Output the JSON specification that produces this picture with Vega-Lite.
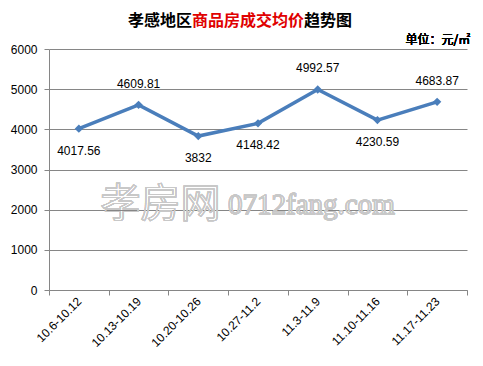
{
  "$schema": "https://vega.github.io/schema/vega-lite/v6.json",
  "width": 418,
  "height": 241,
  "autosize": {"type": "none"},
  "padding": {"left": 49, "top": 49, "right": 16, "bottom": 76},
  "background": "white",
  "config": {
    "view": {"stroke": null},
    "font": "Liberation Sans"
  },
  "title": {
    "text": "孝感地区　　　　　　　趋势图",
    "subtitle": "\u200b　商品房成交均价",
    "font": "Noto Sans CJK SC",
    "subtitleFont": "Noto Sans CJK SC",
    "fontSize": 16,
    "subtitleFontSize": 16,
    "fontWeight": "bold",
    "subtitleFontWeight": "bold",
    "color": "#000000",
    "subtitleColor": "#e00000",
    "subtitlePadding": -16,
    "anchor": "middle",
    "dx": -18,
    "offset": 5
  },
  "data": {
    "values": [
      {"week": "10.6-10.12", "price": 4017.56},
      {"week": "10.13-10.19", "price": 4609.81},
      {"week": "10.20-10.26", "price": 3832},
      {"week": "10.27-11.2", "price": 4148.42},
      {"week": "11.3-11.9", "price": 4992.57},
      {"week": "11.10-11.16", "price": 4230.59},
      {"week": "11.17-11.23", "price": 4683.87}
    ]
  },
  "encoding": {
    "x": {
      "field": "week",
      "type": "nominal",
      "sort": null,
      "scale": {"type": "band", "paddingInner": 0, "paddingOuter": 0,
        "domain": ["10.6-10.12", "10.13-10.19", "10.20-10.26", "10.27-11.2", "11.3-11.9", "11.10-11.16", "11.17-11.23"]},
      "axis": {
        "title": null,
        "labelAngle": -45,
        "labelAlign": "right",
        "labelBaseline": "middle",
        "labelFontSize": 12,
        "labelColor": "#000000",
        "labelPadding": 4,
        "tickBand": "extent",
        "tickSize": 5,
        "tickColor": "#868686",
        "domainColor": "#868686",
        "grid": false
      }
    },
    "y": {
      "field": "price",
      "type": "quantitative",
      "scale": {"domain": [0, 6000]},
      "axis": {
        "title": null,
        "values": [0, 1000, 2000, 3000, 4000, 5000, 6000],
        "format": "d",
        "labelFontSize": 12,
        "labelColor": "#000000",
        "labelPadding": 7,
        "tickSize": 5,
        "tickColor": "#868686",
        "domainColor": "#868686",
        "gridColor": "#868686",
        "grid": true
      }
    }
  },
  "layer": [
    {
      "mark": {"type": "text", "text": "孝房网", "font": "Noto Sans CJK SC", "fontSize": 40, "fill": "transparent", "stroke": "#c8c8c8", "strokeWidth": 0.8, "align": "center", "baseline": "middle", "dx": 22},
      "encoding": {"x": {"datum": "10.13-10.19"}, "y": {"datum": 2116}}
    },
    {
      "mark": {"type": "text", "text": "0712fang.com", "font": "Liberation Serif", "fontSize": 29, "fill": "transparent", "stroke": "#c8c8c8", "strokeWidth": 0.8, "align": "left", "baseline": "middle", "dx": -30},
      "encoding": {"x": {"datum": "10.27-11.2"}, "y": {"datum": 2116}}
    },
    {
      "mark": {"type": "line", "color": "#4A7EBB", "strokeWidth": 3.5}
    },
    {
      "mark": {"type": "point", "shape": "diamond", "filled": true, "color": "#4A7EBB", "size": 70, "opacity": 1}
    },
    {
      "transform": [{"filter": "datum.price > 4500"}],
      "mark": {"type": "text", "fontSize": 12, "color": "#000000", "baseline": "middle", "dy": -21},
      "encoding": {"text": {"field": "price", "type": "quantitative", "format": ".6~"}}
    },
    {
      "transform": [{"filter": "datum.price <= 4500"}],
      "mark": {"type": "text", "fontSize": 12, "color": "#000000", "baseline": "middle", "dy": 22},
      "encoding": {"text": {"field": "price", "type": "quantitative", "format": ".6~"}}
    },
    {
      "mark": {"type": "text", "text": "单位：元/㎡", "font": "Noto Sans CJK SC", "fontSize": 12, "fontWeight": "normal", "color": "#000000", "align": "right", "baseline": "bottom", "dx": 33, "dy": -2},
      "encoding": {"x": {"datum": "11.17-11.23"}, "y": {"datum": 6000}}
    }
  ]
}
